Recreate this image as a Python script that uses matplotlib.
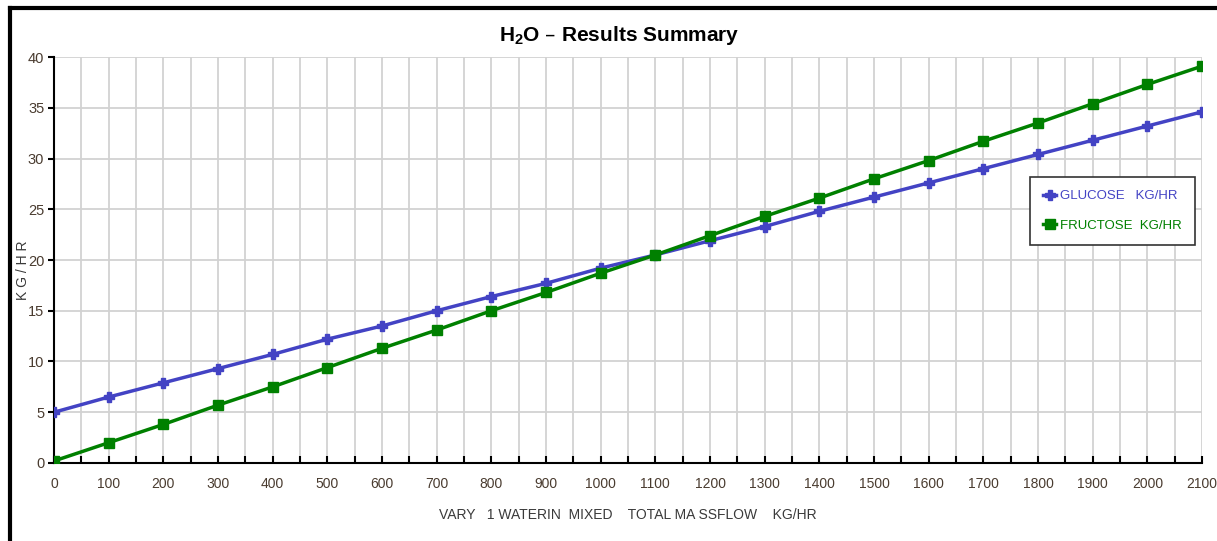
import numpy as np
from matplotlib import pyplot as plt
from matplotlib.lines import Line2D

flow = [0, 100, 200, 300, 400, 500, 600, 700, 800, 900, 1000,
        1100, 1200, 1300, 1400, 1500, 1600, 1700, 1800, 1900, 2000, 2100]
glucose = [5.0, 6.5, 7.9, 9.3, 10.7, 12.2, 13.5, 15.0, 16.4, 17.7, 19.2,
           20.5, 21.9, 23.3, 24.8, 26.2, 27.6, 29.0, 30.4, 31.8, 33.2, 34.6]
fructose = [0.2, 2.0, 3.8, 5.7, 7.5, 9.4, 11.3, 13.1, 15.0, 16.8, 18.7,
            20.5, 22.4, 24.3, 26.1, 28.0, 29.8, 31.7, 33.5, 35.4, 37.3, 39.1]

blue = '#4343c4'
green = '#008000'
tick_col = '#4a3c30'

plt.rcParams['font.family'] = ['Liberation Sans', 'DejaVu Sans']
plt.rcParams['mathtext.default'] = 'regular'

fig = plt.figure(figsize=(12.17, 5.41), dpi=100)
ax = fig.add_axes([0.0444, 0.1442, 0.9433, 0.7504])

ax.plot(flow, glucose, color=blue, lw=2.5, marker='P', ms=7,
        label='GLUCOSE   KG/HR', zorder=3)
ax.plot(flow, fructose, color=green, lw=2.5, marker='s', ms=7,
        label='FRUCTOSE  KG/HR', zorder=4)

ax.set_xlim(0, 2100)
ax.set_ylim(0, 40)
ax.set_xticks(np.arange(0, 2101, 50))
ax.set_xticklabels([str(v) if v % 100 == 0 else '' for v in range(0, 2101, 50)])
ax.set_yticks(np.arange(0, 41, 5))
ax.grid(True, color='#d2d2d2', lw=1.3, zorder=0)
ax.set_axisbelow(True)

for s in ['top', 'right']:
    ax.spines[s].set_visible(False)
for s in ['left', 'bottom']:
    ax.spines[s].set_linewidth(1.5)
    ax.spines[s].set_color('black')

ax.tick_params(axis='x', direction='in', length=5, width=1.5,
               labelsize=10, labelcolor=tick_col, pad=10)
ax.tick_params(axis='y', direction='out', length=4, width=1.5,
               labelsize=10.5, labelcolor=tick_col, pad=3)

ax.set_xlabel('VARY   1 WATERIN  MIXED    TOTAL MA SSFLOW    KG/HR',
              fontsize=10, color='#3a3a3a', labelpad=12)
fig.text(0.019, 0.50, 'K G / H R', rotation=90, ha='center', va='center',
         fontsize=10, color='#3a3a3a')

fig.text(0.509, 0.935, r'H$_2$O – Results Summary', ha='center', va='center',
         fontsize=15, fontweight='bold')

leg = ax.legend(loc='upper right', bbox_to_anchor=(0.994, 0.705), fontsize=9.5,
                frameon=True, fancybox=False, edgecolor='#333333',
                framealpha=1, borderpad=1.0, labelspacing=1.3,
                handlelength=1.0, handletextpad=0.3, borderaxespad=0)
leg.get_frame().set_linewidth(1.2)
for txt, c in zip(leg.get_texts(), [blue, green]):
    txt.set_color(c)

# outer frame (top and left edges visible)
fig.add_artist(Line2D([0.0082, 0.0082], [0, 0.985], color='black', lw=3,
                      transform=fig.transFigure))
fig.add_artist(Line2D([0.0082, 1.0], [0.985, 0.985], color='black', lw=3,
                      transform=fig.transFigure))

fig.savefig('out.png', dpi=100)
